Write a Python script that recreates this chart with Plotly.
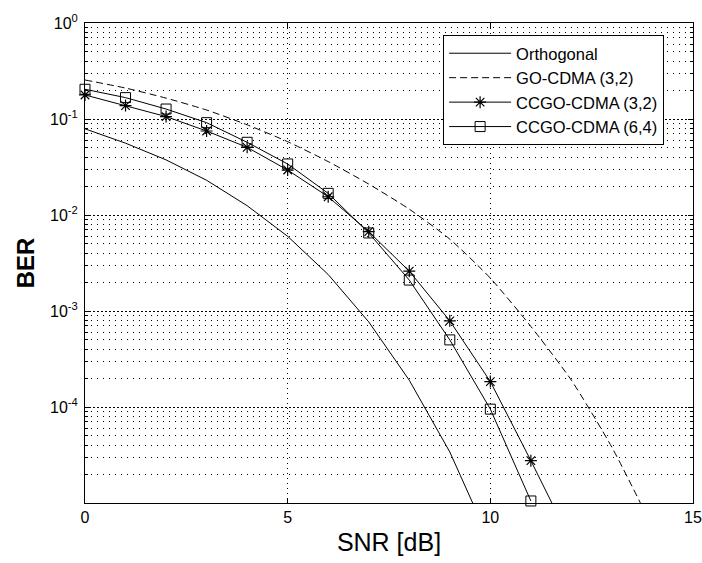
import plotly.graph_objects as go

# ---- data ----
snr = [0, 1, 2, 3, 4, 5, 6, 7, 8, 9, 10, 11, 12, 13, 14]

orthogonal = [0.079, 0.056, 0.0375, 0.023, 0.0125, 0.006, 0.0024,
              0.00077, 0.00019, 3.4e-5, 3.9e-6]
go_cdma_32 = [0.255, 0.21, 0.165, 0.124, 0.087, 0.058, 0.036, 0.021,
              0.0115, 0.0056, 0.0022, 0.00069, 0.00019, 3.8e-5, 5.6e-6]
ccgo_cdma_32 = [0.178, 0.138, 0.106, 0.075, 0.0507, 0.0294, 0.0155,
                0.0067, 0.0026, 0.00079, 0.000184, 2.76e-5, 3.9e-6]
ccgo_cdma_64 = [0.204, 0.167, 0.127, 0.0916, 0.0572, 0.034, 0.0168,
                0.0065, 0.0021, 0.0005, 9.5e-5, 1.05e-5]

names = ["Orthogonal", "GO-CDMA (3,2)", "CCGO-CDMA (3,2)", "CCGO-CDMA (6,4)"]

x_ticks = [0, 5, 10, 15]
y_ticks = [1, 0.1, 0.01, 0.001, 0.0001]
y_ticktext = ["10<sup>0</sup>", "10<sup>-1</sup>", "10<sup>-2</sup>",
              "10<sup>-3</sup>", "10<sup>-4</sup>"]

FONT = "Liberation Sans, Arial, sans-serif"

fig = go.Figure()

fig.add_trace(go.Scatter(
    x=snr[:len(orthogonal)], y=orthogonal, mode="lines", name=names[0],
    line=dict(color="black", width=1)))

fig.add_trace(go.Scatter(
    x=snr[:len(go_cdma_32)], y=go_cdma_32, mode="lines", name=names[1],
    line=dict(color="black", width=1, dash="7px,4px", shape="spline",
              smoothing=0.6)))

n32 = 12  # points drawn with markers (inside the axes)
fig.add_trace(go.Scatter(
    x=snr[:n32], y=ccgo_cdma_32[:n32], mode="lines+markers", name=names[2],
    line=dict(color="black", width=1),
    marker=dict(symbol="asterisk-open", size=10,
                line=dict(color="black", width=1.2)),
    cliponaxis=False))
# tail of the line below the axis (clipped)
fig.add_trace(go.Scatter(
    x=snr[n32 - 1:len(ccgo_cdma_32)], y=ccgo_cdma_32[n32 - 1:],
    mode="lines", showlegend=False, hoverinfo="skip",
    line=dict(color="black", width=1)))

fig.add_trace(go.Scatter(
    x=snr[:len(ccgo_cdma_64)], y=ccgo_cdma_64, mode="lines+markers",
    name=names[3],
    line=dict(color="black", width=1),
    marker=dict(symbol="square-open", size=10,
                line=dict(color="black", width=1)),
    cliponaxis=False))

minor_vals = [m * 10.0 ** e for e in range(-5, 0) for m in range(2, 10)]

fig.update_layout(
    width=702, height=563,
    margin=dict(l=85, r=9, t=23, b=60, autoexpand=False),
    paper_bgcolor="white", plot_bgcolor="white",
    font=dict(family=FONT, color="black", size=16),
    showlegend=True,
    legend=dict(x=0.589, y=0.975, xanchor="left", yanchor="top",
                bgcolor="white", bordercolor="black", borderwidth=1,
                font=dict(family=FONT, size=16.5, color="black"),
                tracegroupgap=0, itemwidth=62),
    xaxis=dict(
        range=[0, 15], tickmode="array", tickvals=x_ticks,
        ticks="inside", ticklen=5, tickcolor="black", tickwidth=1,
        showline=True, linecolor="black", linewidth=1, mirror="allticks",
        showgrid=True, gridcolor="black", gridwidth=1, griddash="1px,4px",
        zeroline=False, ticklabeloverflow="allow", automargin=False,
        tickfont=dict(family=FONT, size=16, color="black"),
        title=dict(text="SNR [dB]", font=dict(family=FONT, size=25,
                                              color="black"), standoff=8),
    ),
    yaxis=dict(
        type="log", range=[-5, 0], tickmode="array", tickvals=y_ticks,
        ticktext=y_ticktext, automargin=False,
        ticks="inside", ticklen=5, tickcolor="black", tickwidth=1,
        showline=True, linecolor="black", linewidth=1, mirror="allticks",
        showgrid=True, gridcolor="black", gridwidth=1, griddash="2px,2px",
        zeroline=False, ticklabelstandoff=3,
        tickfont=dict(family=FONT, size=16, color="black"),
        minor=dict(tickmode="array", tickvals=minor_vals, ticks="inside",
                   ticklen=3, tickcolor="black", showgrid=True,
                   gridcolor="black", gridwidth=1, griddash="1px,5px"),
        title=dict(text="<b>BER</b>", font=dict(family=FONT, size=24,
                                                color="black"), standoff=8),
    ),
)

fig.write_html("out.html")
